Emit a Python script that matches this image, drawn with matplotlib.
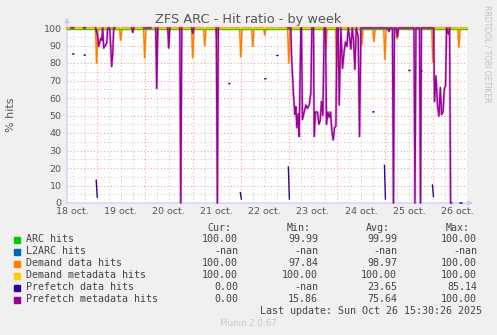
import numpy as np
import matplotlib.pyplot as plt
from matplotlib.transforms import offset_copy

W, H = 497, 335
nan = np.nan

# time axis in hours since 18 oct 00:00
t_start, t_end = 9.15, 209.0
day_label_hours = [12, 36, 60, 84, 108, 132, 156, 180, 204]
day_labels = ["18 oct.", "19 oct.", "20 oct.", "21 oct.", "22 oct.",
              "23 oct.", "24 oct.", "25 oct.", "26 oct."]

arc_hits = 99.99
demand_meta_hits = 100.0

# demand data hits: flat 100 with short dips
demand_dip_hours = [24, 36, 48, 54, 60, 72, 78, 84, 90, 96, 102, 108, 114, 120,
                    138.5, 144, 156.5, 162.5, 168, 174, 180, 192, 205]
demand_dip_values = [80, 93, 83, 90, 97, 83, 90, 95, 99, 83.5, 89.5, 96, 99.3, 80,
                     88, 77.5, 90.5, 92.4, 82, 94, 99, 80.5, 89]

# prefetch data hits (sparse samples, nan = no data)
pf_data_t = [12.0, 12.5, nan, 17.75, 18.25, nan, 23.75, 24.25, nan, 84.0, 84.5, nan,
             90.0, 90.5, nan, 95.75, 96.25, nan, 108.0, 108.5, nan, 114.0, 114.5, nan,
             119.75, 120.25, nan, 162.0, 162.5, nan, 167.75, 168.25, nan,
             180.0, 180.5, nan, 186.0, 186.5, nan, 191.75, 192.25, nan, 205.5, 206.5]
pf_data_v = [85.14, 85.14, nan, 84.5, 84.5, nan, 13.0, 3.3, nan, 59.6, 59.6, nan,
             68.2, 68.2, nan, 6.0, 2.3, nan, 71.0, 71.0, nan, 84.3, 84.3, nan,
             20.5, 2.3, nan, 52.1, 52.1, nan, 21.5, 2.3, nan,
             75.7, 75.7, nan, 75.3, 75.3, nan, 10.3, 3.6, nan, 0.0, 0.0]

# prefetch metadata hits
pf_meta_t = [11.25, 12.5, nan, 17.5, 18.25, nan,
             23.5, 24.5, 25, 26, 26.5, 27, 27.5, 28.5, 29, 29.5, 30.5, 31, 31.5, 32, 32.5, 33, nan,
             41.5, 42, 42.5, nan, 47.5, 51, nan, 53.5, 54, 54.5, nan, 59.5, 60, 60.5, nan,
             65.5, 66, 66.5, nan, 71.5, 72, 72.5, nan, 83.75, 84.25, 84.75, nan,
             119.5, 121, 121.3, 122.3, 123, 123.5, 124, 124.65, 125.15, 126, 126.3, 126.8,
             127.65, 128.5, 129.3, 130.15, 131, 131.5, 132.3, 132.65, 133.3, 134.3, 135,
             135.65, 136.3, 137, 137.65, 138.3, 138.8, 139.5, 140.15, 140.8, 141.5, 142.15,
             142.8, 143.5, 144, 144.65, 145.15, 146, 146.8, 147.65, 148.3, 149, 149.65,
             150.5, 151, 151.65, 152.3, 153, 153.65, 154.65, 155.3, 156,
             169.5, 170, 170.5, 171.75, 172.25, 172.75, 173.75, 174.25, 174.75,
             182.5, 183, 183.5, 185.25, 185.75, 186.25,
             192.3, 192.8, 193.5, 194.3, 195, 195.65, 196.3, 197, 197.65, 198.3, 198.8,
             199.3, 199.8, 200.3, 200.8, 201.3]
pf_meta_v = [100, 100, nan, 100, 100, nan,
             100, 95, 89.5, 94, 93, 100, 88.5, 90.4, 91.4, 100, 100, 89.5, 78, 85.6, 100, 100, nan,
             100, 97.5, 100, nan, 100, 100, nan, 100, 65.5, 100, nan, 100, 88.5, 100, nan,
             100, 0, 100, nan, 100, 97, 100, nan, 100, 0, 100, nan,
             100, 100, 85, 62, 50.6, 55, 43, 51, 38, 100, 100, 47.7,
             52, 56, 54, 56, 63, 100, 100, 38, 52, 52, 45,
             47, 58, 50, 100, 100, 45, 52, 49, 52, 41, 36,
             43, 44, 100, 100, 56, 100, 77, 87, 92, 89.5, 100,
             93, 88, 100, 93, 76.4, 100, 95, 38, 100,
             100, 98, 100, 100, 0, 100, 100, 95, 100,
             100, 0, 100, 100, 0, 100,
             100, 58, 72.6, 55.3, 49.6, 66, 50.6, 52, 65, 67, 100,
             97.5, 96.5, 100, 0, 0]

legend_names = ["ARC hits", "L2ARC hits", "Demand data hits", "Demand metadata hits",
                "Prefetch data hits", "Prefetch metadata hits"]
legend_colors = ["#00cc00", "#0066b3", "#ff8000", "#ffcc00", "#330099", "#990099"]
cur_vals = ["100.00", "-nan", "100.00", "100.00", "0.00", "0.00"]
min_vals = ["99.99", "-nan", "97.84", "100.00", "-nan", "15.86"]
avg_vals = ["99.99", "-nan", "98.97", "100.00", "23.65", "75.64"]
max_vals = ["100.00", "-nan", "100.00", "100.00", "85.14", "100.00"]

# build demand data series from its dips
dd_t, dd_v = [t_start], [100.0]
for h, v in zip(demand_dip_hours, demand_dip_values):
    dd_t += [h - 0.6, h, h + 0.6]
    dd_v += [100.0, v, 100.0]
dd_t.append(t_end)
dd_v.append(100.0)

fig = plt.figure(figsize=(W / 100, H / 100), dpi=100, facecolor="#f0f0f0")
ax = fig.add_axes([67 / W, 132 / H, 400 / W, 175 / H])
ax.set_facecolor("white")
ax.set_xlim(t_start, t_end)
ax.set_ylim(0, 100)
for s in ax.spines.values():
    s.set_visible(False)

# grid
dot = (0, (1, 2))
for h in np.arange(12, t_end, 6):
    major = h % 24 == 0
    ax.axvline(h, color="#ff000060" if major else "#80808060", lw=0.8, ls=dot, zorder=0)
for v in range(5, 101, 5):
    major = v % 10 == 0
    ax.axhline(v, color="#ff000060" if major else "#80808060", lw=0.8, ls=dot, zorder=0)

axis_col = "#c8c8ff"
ax.annotate("", xy=(0, 1.06), xytext=(0, 0), xycoords="axes fraction",
            arrowprops=dict(arrowstyle="-|>", color=axis_col, lw=0.8, shrinkA=0, shrinkB=0,
                            mutation_scale=7), annotation_clip=False)
ax.annotate("", xy=(1.015, 0), xytext=(0, 0), xycoords="axes fraction",
            arrowprops=dict(arrowstyle="-|>", color=axis_col, lw=0.8, shrinkA=0, shrinkB=0,
                            mutation_scale=7), annotation_clip=False)


def draw(t, v, color, z, halo=True):
    # soft halo + core, like rrdtool's antialiased lines
    if halo:
        ax.plot(t, v, color=color, lw=1.8, alpha=0.3, clip_on=False, zorder=z)
    ax.plot(t, v, color=color, lw=1.0, clip_on=False, zorder=z + 0.5)


down = offset_copy(ax.transData, fig=fig, y=-1.3, units="dots")
draw(dd_t, dd_v, legend_colors[2], 3)
ax.plot([t_start, t_end], [arc_hits, arc_hits], color=legend_colors[0], lw=1.0,
        transform=down, clip_on=False, zorder=3.8)
ax.plot([t_start, t_end], [demand_meta_hits, demand_meta_hits], color=legend_colors[3],
        lw=1.0, clip_on=False, zorder=4)
draw(pf_data_t, pf_data_v, legend_colors[4], 5, halo=False)
draw(pf_meta_t, pf_meta_v, legend_colors[5], 6)

ax.set_xticks(day_label_hours, day_labels)
ax.set_yticks(range(0, 101, 10))
ax.tick_params(length=0, labelsize=6.8, labelcolor="#555555")
ax.tick_params(axis="x", pad=3)
ax.tick_params(axis="y", pad=4)


def px(x, y):
    return x / W, 1 - y / H


fig.text(*px(248, 19), "ZFS ARC - Hit ratio - by week", ha="center", va="center",
         fontsize=9.3, color="#555555")
fig.text(*px(11, 115), "% hits", rotation=90, ha="center", va="center",
         fontsize=8, color="#555555")
fig.text(*px(487, 5), "RRDTOOL / TOBI OETIKER", rotation=270, ha="center", va="top",
         fontsize=5.5, color="#c0c0c0")

mono = dict(family="DejaVu Sans Mono", fontsize=7.2, color="#444444", va="center")
for x, lab in zip([231, 311, 390, 470], ["Cur:", "Min:", "Avg:", "Max:"]):
    fig.text(*px(x, 227.7), lab, ha="right", **mono)
for i, name in enumerate(legend_names):
    y = 239.5 + 12 * i
    fig.patches.append(plt.Rectangle(px(14, y + 3), 6 / W, 6 / H, transform=fig.transFigure,
                                     color=legend_colors[i], figure=fig))
    fig.text(*px(26, y), name, ha="left", **mono)
    for x, vals in zip([238, 318, 397, 477], [cur_vals, min_vals, avg_vals, max_vals]):
        fig.text(*px(x, y), vals[i], ha="right", **mono)
fig.text(*px(482, 311), "Last update: Sun Oct 26 15:30:26 2025", ha="right", **mono)
fig.text(*px(248, 324), "Munin 2.0.67", ha="center", va="center", fontsize=6.3,
         color="#c8c8c8")

fig.savefig("out.png", dpi=100, facecolor=fig.get_facecolor())
